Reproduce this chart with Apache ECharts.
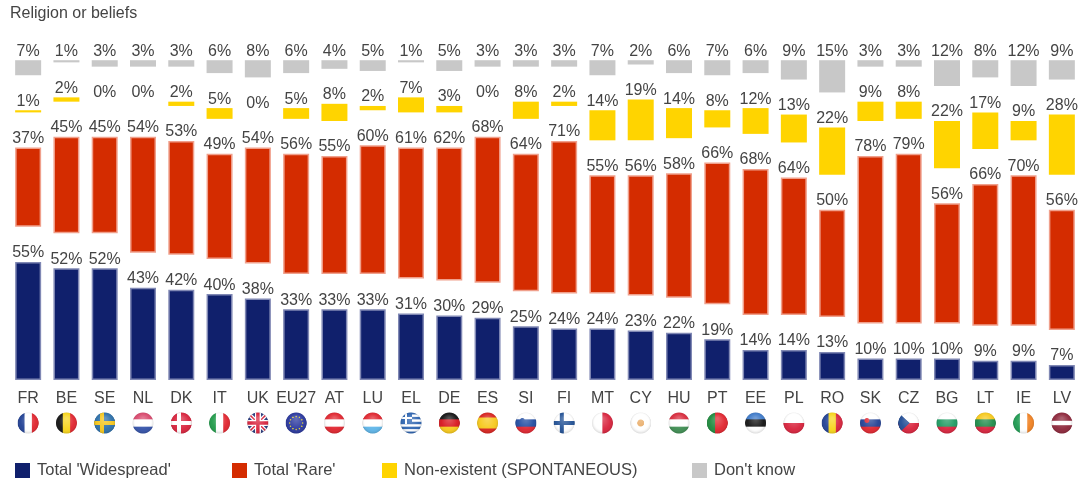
<!DOCTYPE html>
<html>
<head>
<meta charset="utf-8">
<title>Religion or beliefs</title>
<style>
html,body{margin:0;padding:0;background:#fff;}
#chart{width:1083px;height:482px;}
</style>
<script src="https://cdn.jsdelivr.net/npm/echarts@6/dist/echarts.min.js"></script>
</head>
<body>
<div id="chart"></div>
<script>
var categories=['FR','BE','SE','NL','DK','IT','UK','EU27','AT','LU','EL','DE','ES','SI','FI','MT','CY','HU','PT','EE','PL','RO','SK','CZ','BG','LT','IE','LV'];
var widespread=[55,52,52,43,42,40,38,33,33,33,31,30,29,25,24,24,23,22,19,14,14,13,10,10,10,9,9,7];
var rare=[37,45,45,54,53,49,54,56,55,60,61,62,68,64,71,55,56,58,66,68,64,50,78,79,56,66,70,56];
var nonExistent=[1,2,0,0,2,5,0,5,8,2,7,3,0,8,2,14,19,14,8,12,13,22,9,8,22,17,9,28];
var dontKnow=[7,1,3,3,3,6,8,6,4,5,1,5,3,3,3,7,2,6,7,6,9,15,3,3,12,8,12,9];

// 三段柱子之间的空白，用透明的堆叠柱子撑开
var GAP=16.3;

// 国旗：h横条 v竖条，后面的数字是条的比例
var flags={
    FR:{v:['#1f3f94','#ffffff','#e0222c']},
    BE:{v:['#111111','#f7d417','#e0222c']},
    SE:{cross:['#2a6ea8','#f5c518']},
    NL:{h:['#d8456a','#ffffff','#3150a8']},
    DK:{cross:['#d8203a','#ffffff']},
    IT:{v:['#1e9a48','#ffffff','#e0222c']},
    UK:{uk:true},
    EU27:{eu:true},
    AT:{h:['#e0222c','#ffffff','#e0222c']},
    LU:{h:['#e0222c','#ffffff','#5cb4e8']},
    EL:{el:true},
    DE:{h:['#111111','#d8141c','#f7c818']},
    ES:{h:['#d8201c','#f7c818','#f7c818','#d8201c']},
    SI:{h:['#ffffff','#1f4aa0','#e0222c'],dot:'#1f4aa0'},
    FI:{cross:['#ffffff','#1f4f94']},
    MT:{v:['#ffffff','#d8203a']},
    CY:{h:['#ffffff'],dot:'#e8a860'},
    HU:{h:['#d8283a','#ffffff','#3c8c50']},
    PT:{v:['#1c8a3c','#1c8a3c','#e0222c','#e0222c','#e0222c']},
    EE:{h:['#3c78c8','#111111','#ffffff']},
    PL:{h:['#ffffff','#d8203a']},
    RO:{v:['#1f3f94','#f7d417','#d8203a']},
    SK:{h:['#ffffff','#1f3f94','#e0222c'],dot:'#e0222c'},
    CZ:{h:['#ffffff','#d8203a'],tri:'#1f4a94'},
    BG:{h:['#ffffff','#1c9a60','#d8203a']},
    LT:{h:['#f7c818','#1c8a48','#d8203a']},
    IE:{v:['#1c9a50','#ffffff','#f08020']},
    LV:{h:['#8c2438','#8c2438','#ffffff','#8c2438','#8c2438']}
};

function drawFlag(f){
    var S=44,cv=document.createElement('canvas');
    cv.width=S;cv.height=S;
    var c=cv.getContext('2d');
    c.beginPath();c.arc(S/2,S/2,S/2-1,0,Math.PI*2);c.clip();
    c.fillStyle='#fff';c.fillRect(0,0,S,S);
    var i;
    if(f.h){
        for(i=0;i<f.h.length;i++){c.fillStyle=f.h[i];c.fillRect(0,S*i/f.h.length,S,S/f.h.length+1);}
    }
    if(f.v){
        for(i=0;i<f.v.length;i++){c.fillStyle=f.v[i];c.fillRect(S*i/f.v.length,0,S/f.v.length+1,S);}
    }
    if(f.cross){
        c.fillStyle=f.cross[0];c.fillRect(0,0,S,S);
        c.fillStyle=f.cross[1];c.fillRect(13,0,8,S);c.fillRect(0,18,S,8);
    }
    if(f.tri){
        c.fillStyle=f.tri;c.beginPath();c.moveTo(0,0);c.lineTo(24,S/2);c.lineTo(0,S);c.fill();
    }
    if(f.dot){
        c.fillStyle=f.dot;c.beginPath();c.arc(f.h.length>1?15:S/2,f.h.length>1?17:S/2,f.h.length>1?5:7,0,Math.PI*2);c.fill();
    }
    if(f.uk){
        c.fillStyle='#24367c';c.fillRect(0,0,S,S);
        c.strokeStyle='#fff';c.lineWidth=8;
        c.beginPath();c.moveTo(0,0);c.lineTo(S,S);c.moveTo(S,0);c.lineTo(0,S);c.stroke();
        c.strokeStyle='#d8203a';c.lineWidth=3;c.stroke();
        c.fillStyle='#fff';c.fillRect(16,0,12,S);c.fillRect(0,16,S,12);
        c.fillStyle='#d8203a';c.fillRect(18.5,0,7,S);c.fillRect(0,18.5,S,7);
    }
    if(f.eu){
        c.fillStyle='#26349c';c.fillRect(0,0,S,S);
        c.fillStyle='#d8c830';
        for(i=0;i<12;i++){
            c.beginPath();c.arc(S/2+13*Math.cos(i*Math.PI/6),S/2+13*Math.sin(i*Math.PI/6),1.6,0,Math.PI*2);c.fill();
        }
    }
    if(f.el){
        c.fillStyle='#2a62b0';c.fillRect(0,0,S,S);
        c.fillStyle='#fff';
        for(i=1;i<9;i+=2){c.fillRect(0,S*i/9,S,S/9);}
        c.fillStyle='#2a62b0';c.fillRect(0,0,24,24);
        c.fillStyle='#fff';c.fillRect(10,0,4,24);c.fillRect(0,10,24,4);
    }
    // 球面高光
    var g=c.createRadialGradient(S/2,S*0.3,2,S/2,S/2,S/2);
    g.addColorStop(0,'rgba(255,255,255,0.28)');
    g.addColorStop(0.7,'rgba(255,255,255,0.05)');
    g.addColorStop(1,'rgba(0,0,0,0.18)');
    c.fillStyle=g;c.fillRect(0,0,S,S);
    return cv;
}

var labelRich={code:{fontSize:16,color:'#444',height:18,lineHeight:18,fontFamily:'Liberation Sans'}};
categories.forEach(function(k){
    labelRich['f'+k]={width:22,height:22,lineHeight:30,backgroundColor:{image:drawFlag(flags[k])}};
});

var gaps=categories.map(function(){return GAP;});

function barSeries(name,data,color,border){
    return {
        name:name,type:'bar',stack:'all',data:data,barWidth:26,
        itemStyle:{color:color,borderColor:border||color,borderWidth:border?1.5:0},
        label:{show:true,position:'top',distance:1,formatter:'{c}%',fontSize:16,color:'#444',fontFamily:'Liberation Sans'},
        silent:true
    };
}
function gapSeries(){
    return {type:'bar',stack:'all',data:gaps,barWidth:26,itemStyle:{color:'transparent'},silent:true};
}

var legendItems=[
    {name:"Total 'Widespread'",left:15},
    {name:"Total 'Rare'",left:232},
    {name:'Non-existent (SPONTANEOUS)',left:382},
    {name:"Don't know",left:692}
];

var option={
    backgroundColor:'#fff',
    animation:false,
    title:{text:'Religion or beliefs',left:5,top:1,textStyle:{fontSize:16,fontWeight:'normal',color:'#444',fontFamily:'Liberation Sans'}},
    legend:legendItems.map(function(it){
        return {
            data:[it.name],left:it.left,top:462,padding:0,icon:'rect',itemWidth:15,itemHeight:15,itemGap:0,
            selectedMode:false,
            itemStyle:{borderWidth:0},
            textStyle:{fontSize:16.5,color:'#444',fontFamily:'Liberation Sans',padding:[0,0,0,2]}
        };
    }),
    grid:{left:9,right:2,top:60,bottom:102},
    xAxis:{
        type:'category',data:categories,
        axisLine:{show:false},axisTick:{show:false},
        axisLabel:{
            interval:0,margin:10,
            formatter:function(v){return '{code|'+v+'}\n{f'+v+'|}';},
            rich:labelRich
        }
    },
    yAxis:{type:'value',min:0,max:149,show:false},
    series:[
        barSeries("Total 'Widespread'",widespread,'#10206c','#8088b4'),
        gapSeries(),
        barSeries("Total 'Rare'",rare,'#d42c00','#f0a08c'),
        gapSeries(),
        barSeries('Non-existent (SPONTANEOUS)',nonExistent,'#ffd400'),
        gapSeries(),
        barSeries("Don't know",dontKnow,'#c8c8c8')
    ]
};

var myChart=echarts.init(document.getElementById('chart'),null,{renderer:'canvas'});
myChart.setOption(option);
</script>
</body>
</html>
